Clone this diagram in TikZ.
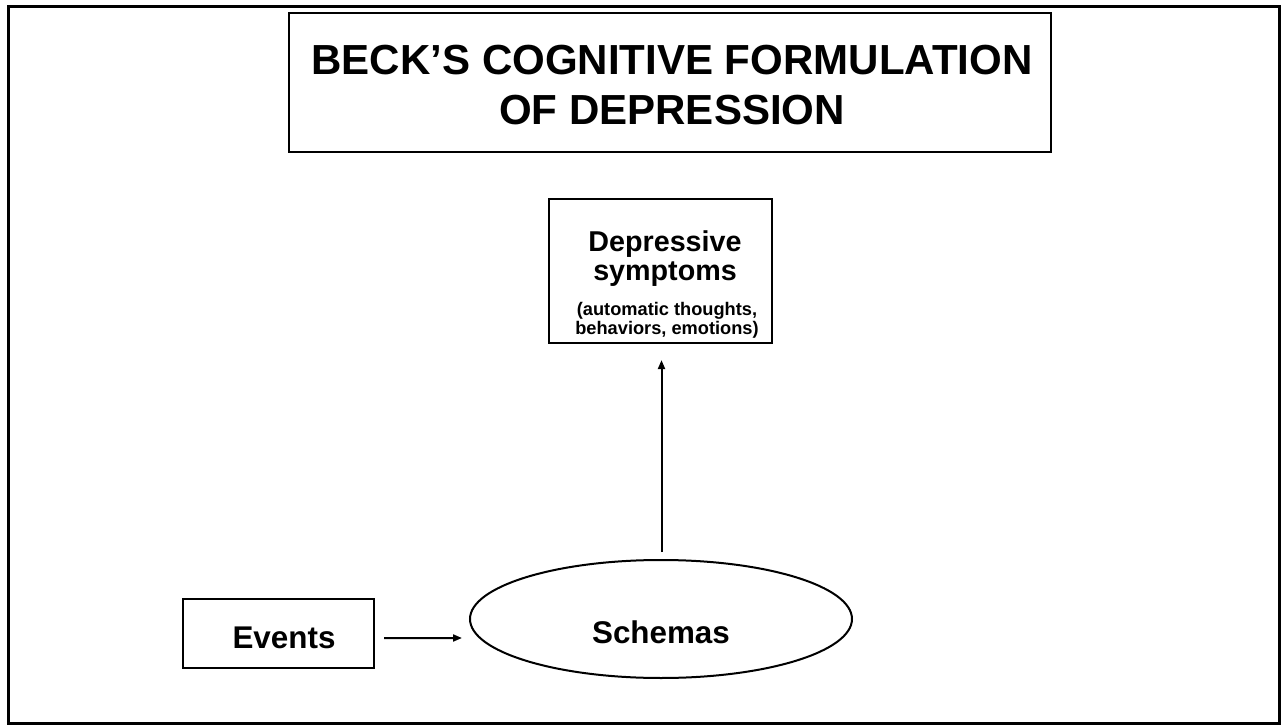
\documentclass[tikz,border=0pt]{standalone}
\usepackage{fontspec}
\setmainfont{Liberation Sans}
\usetikzlibrary{shapes.geometric,arrows.meta,calc}
\begin{document}
\begin{tikzpicture}[x=1bp,y=-1bp,
  frame/.style={draw=black, line width=3bp},
  box/.style={draw=black, line width=2.2bp, rectangle, inner sep=0pt},
  link/.style={draw=black, line width=2bp, -{Triangle[length=9bp,width=7bp]}},
  lbl/.style={inner sep=0pt, anchor=base}]
\useasboundingbox (0,0) rectangle (1281,725);
% outer frame
\draw[frame] (8,7) rectangle (1279,723);

% title
\node[box, minimum width=762bp, minimum height=139bp] (title) at (670,82.5) {};
\node[lbl, font=\fontsize{42.2}{49}\selectfont\bfseries] (titleA) at (672,75) {BECK’S COGNITIVE FORMULATION};
\node[lbl, font=\fontsize{42.2}{49}\selectfont\bfseries] (titleB) at (672,125) {OF DEPRESSION};

% symptoms box
\node[box, minimum width=223bp, minimum height=144bp] (symptoms) at (660.5,271) {};
\node[lbl, font=\fontsize{28.8}{30}\selectfont\bfseries] (symA) at (665,252) {Depressive};
\node[lbl, font=\fontsize{28.8}{30}\selectfont\bfseries] (symB) at (665,280) {symptoms};
\node[lbl, font=\fontsize{18.3}{20}\selectfont\bfseries] (symC) at (667,315) {(automatic thoughts,};
\node[lbl, font=\fontsize{18.3}{20}\selectfont\bfseries] (symD) at (667,334) {behaviors, emotions)};

% events box
\node[box, minimum width=191bp, minimum height=69bp] (events) at (278.5,633.5) {};
\node[lbl, font=\fontsize{31.5}{32}\selectfont\bfseries] (evT) at (284,648) {Events};

% schemas ellipse
\node[draw=black, line width=2bp, ellipse, inner sep=0pt, minimum width=382bp, minimum height=118bp] (schemas) at (661,619) {};
\node[lbl, font=\fontsize{31.5}{32}\selectfont\bfseries] (scT) at (661,643) {Schemas};

% connectors
\draw[link] ($(events.east)+(9,4.5)$) -- ($(schemas.west)+(-7,19)$);
\draw[link] ($(schemas.north)+(0.5,-7)$) -- ($(symptoms.south)+(1,16)$);
\end{tikzpicture}
\end{document}
